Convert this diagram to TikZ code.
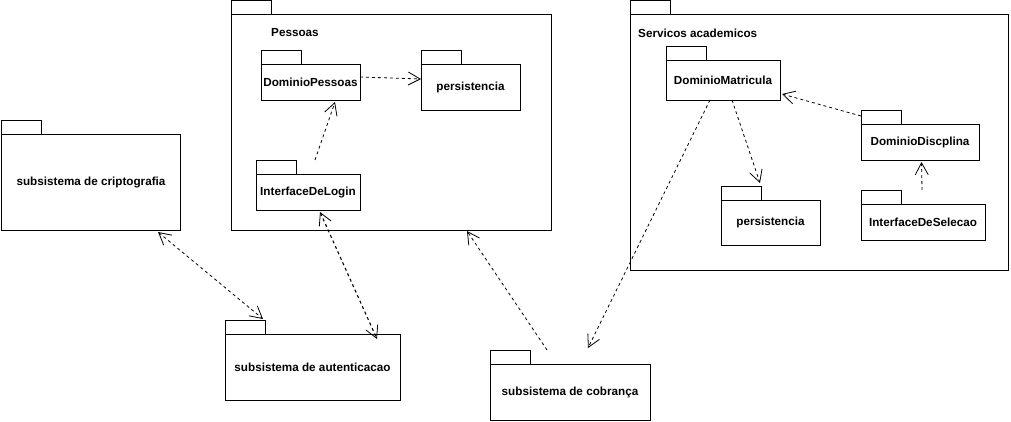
\documentclass[tikz,border=0pt]{standalone}
\usepackage{fontspec}
\setmainfont{Liberation Sans}
\usetikzlibrary{arrows.meta}

\begin{document}
\begin{tikzpicture}[x=1pt,y=-1pt,
    pkg/.style={draw,line width=1pt,inner sep=0pt,outer sep=0pt,align=center,
      font=\fontsize{11.7}{14}\selectfont\bfseries},
    title/.style={anchor=west,inner sep=0pt,font=\fontsize{11.7}{14}\selectfont\bfseries},
    dep/.style={draw,line width=0.8pt,dash pattern=on 3pt off 3pt,
      -{Straight Barb[length=12pt,width=13pt,line width=0.8pt]}},
    both/.style={dep,{Straight Barb[length=12pt,width=13pt,line width=0.8pt]}-{Straight Barb[length=12pt,width=13pt,line width=0.8pt]}}]
    \useasboundingbox (0,0) rectangle (1011,421);

    \node[pkg,minimum width=179pt,minimum height=96pt] (cr) at (91,182) {subsistema de criptografia};
    \node[pkg,minimum width=175pt,minimum height=66pt] (au) at (312.5,367) {subsistema de autenticacao};
    \node[pkg,minimum width=160pt,minimum height=56pt] (cb) at (570,392) {subsistema de cobrança};

    \node[pkg,minimum width=320pt,minimum height=216pt] (ps) at (391,122) {};
    \node[title] (pst) at (271,33) {Pessoas};
    \node[pkg,minimum width=99pt,minimum height=36pt] (dp) at (310.5,82) {DominioPessoas};
    \node[pkg,minimum width=99pt,minimum height=46pt] (pp) at (470.5,87) {persistencia};
    \node[pkg,minimum width=104pt,minimum height=36pt] (il) at (308,192) {InterfaceDeLogin};

    \node[pkg,minimum width=378pt,minimum height=256pt] (sa) at (819,142) {};
    \node[title] (sat) at (638,33) {Servicos academicos};
    \node[pkg,minimum width=114pt,minimum height=40pt] (dm) at (723,80) {DominioMatricula};
    \node[pkg,minimum width=118pt,minimum height=36pt] (dd) at (920,142) {DominioDiscplina};
    \node[pkg,minimum width=99pt,minimum height=45pt] (sp) at (770.5,222.5) {persistencia};
    \node[pkg,minimum width=124pt,minimum height=36pt] (is) at (923,222) {InterfaceDeSelecao};

    \foreach \n in {cr,au,cb,ps,dp,pp,il,sa,dm,dd,sp,is}
      \draw[line width=1pt] (\n.north west) rectangle ++(40,-14);

    \draw[dep] ([yshift=5pt]dp.east) -- ([yshift=8pt]pp.west);
    \draw[dep] ([xshift=7pt,yshift=14pt]il.north) -- ([xshift=24.5pt,yshift=-2pt]dp.south);
    \draw[both] ([xshift=67pt,yshift=-2pt]cr.south) -- ([xshift=38pt,yshift=15pt]au.north west);
    \draw[both,line width=1.1pt] ([xshift=12pt,yshift=-2pt]il.south) -- ([xshift=-23pt,yshift=-5pt]au.north east);
    \draw[dep] ([xshift=-23pt,yshift=14pt]cb.north) -- ([xshift=76pt,yshift=-1pt]ps.south);
    \draw[dep] ([xshift=-13pt]dm.south) -- ([xshift=18pt,yshift=16pt]cb.north);
    \draw[dep] ([xshift=9pt]dm.south) -- ([xshift=-10.5pt,yshift=17pt]sp.north);
    \draw[dep] ([yshift=8pt]dd.north west) -- ([xshift=2pt,yshift=-14pt]dm.east);
    \draw[dep] ([xshift=-1pt,yshift=14pt]is.north) -- ([xshift=1.5pt,yshift=-2pt]dd.south);
  \end{tikzpicture}
\end{document}
